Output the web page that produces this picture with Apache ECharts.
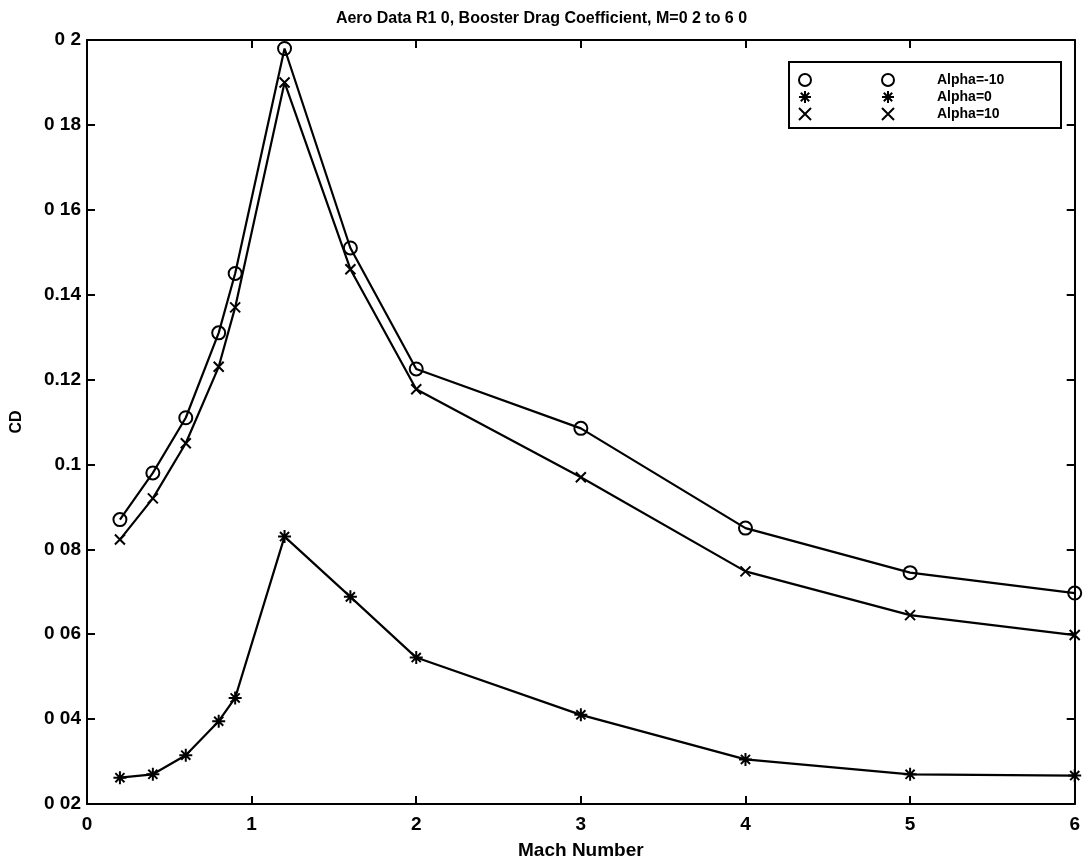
<!DOCTYPE html>
<html>
<head>
<meta charset="utf-8">
<script src="https://cdn.jsdelivr.net/npm/echarts@6/dist/echarts.min.js"></script>
<style>
  html, body { margin: 0; padding: 0; background: #fff; }
  #chart { width: 1083px; height: 865px; }
</style>
</head>
<body>
<div id="chart"></div>
<script>
// Mach numbers
var mach = [0.2, 0.4, 0.6, 0.8, 0.9, 1.2, 1.6, 2, 3, 4, 5, 6];
// drag coefficient per angle of attack
var cdAlphaM10 = [0.087, 0.098, 0.111, 0.131, 0.145, 0.198, 0.151, 0.1225, 0.1085, 0.085, 0.0745, 0.0697];
var cdAlpha0 = [0.0262, 0.027, 0.0315, 0.0395, 0.045, 0.083, 0.0688, 0.0545, 0.041, 0.0305, 0.027, 0.0267];
var cdAlpha10 = [0.0823, 0.092, 0.105, 0.123, 0.137, 0.19, 0.146, 0.1177, 0.097, 0.0748, 0.0645, 0.0598];
var seriesNames = ['Alpha=-10', 'Alpha=0', 'Alpha=10'];
// y tick labels as printed (scanned)
var yTickValues = [0.02, 0.04, 0.06, 0.08, 0.1, 0.12, 0.14, 0.16, 0.18, 0.2];
var yTickLabels = ['0 02', '0 04', '0 06', '0 08', '0.1', '0.12', '0.14', '0 16', '0 18', '0 2'];

var starPath = 'path://M5,0L5,10M0,5L10,5M1.5,1.5L8.5,8.5M8.5,1.5L1.5,8.5';
var crossPath = 'path://M0,0L10,10M10,0L0,10';
var symbols = ['circle', starPath, crossPath];
var symbolSizes = [13, 13, 10];

function pairs(ys) {
  return mach.map(function (m, i) { return [m, ys[i]]; });
}

var chart = echarts.init(document.getElementById('chart'));
var font = 'Liberation Sans, Arial, sans-serif';

var yLabel = function (v) {
  for (var i = 0; i < yTickValues.length; i++) {
    if (Math.abs(v - yTickValues[i]) < 1e-9) return yTickLabels[i];
  }
  return '';
};

var allData = [cdAlphaM10, cdAlpha0, cdAlpha10];
var legendData = seriesNames.map(function (n, i) { return { name: n, icon: symbols[i] }; });

var option = {
  animation: false,
  backgroundColor: '#fff',
  title: {
    text: 'Aero Data R1 0, Booster Drag Coefficient, M=0 2 to 6 0',
    left: 'center',
    top: 6,
    textStyle: { fontFamily: font, fontSize: 16, fontWeight: 'bold', color: '#000' }
  },
  grid: { left: 87, right: 7, top: 40, bottom: 61 },
  legend: [
    {
      orient: 'vertical', left: 793, top: 68, itemGap: 3, itemWidth: 12, itemHeight: 12,
      formatter: function () { return ''; },
      data: legendData,
      textStyle: { fontSize: 14, lineHeight: 14 }
    },
    {
      orient: 'vertical', left: 876, top: 68, itemGap: 3, itemWidth: 12, itemHeight: 12,
      data: legendData,
      textStyle: { fontFamily: font, fontSize: 14, lineHeight: 14, fontWeight: 'bold', color: '#000', padding: [0, 0, 0, 38] }
    }
  ],
  graphic: [
    {
      type: 'rect', left: 788, top: 61, z: 0,
      shape: { width: 272, height: 66 },
      style: { fill: '#fff', stroke: '#000', lineWidth: 2 }
    }
  ],
  xAxis: [
    {
      type: 'value', min: 0, max: 6, interval: 1,
      name: 'Mach Number', nameLocation: 'middle', nameGap: 37,
      nameTextStyle: { fontFamily: font, fontSize: 19, fontWeight: 'bold', color: '#000' },
      axisLine: { onZero: false, lineStyle: { color: '#000', width: 2 } },
      axisTick: { inside: true, length: 8, lineStyle: { color: '#000', width: 2 } },
      axisLabel: { fontFamily: font, fontSize: 19, fontWeight: 'bold', color: '#000', margin: 11 },
      splitLine: { show: false }
    },
    {
      type: 'value', min: 0, max: 6, interval: 1, position: 'top',
      axisLine: { onZero: false, lineStyle: { color: '#000', width: 2 } },
      axisTick: { inside: true, length: 8, lineStyle: { color: '#000', width: 2 } },
      axisLabel: { show: false },
      splitLine: { show: false }
    }
  ],
  yAxis: [
    {
      type: 'value', min: 0.02, max: 0.2, interval: 0.02,
      name: 'CD', nameLocation: 'middle', nameGap: 62, nameRotate: 90,
      nameTextStyle: { fontFamily: font, fontSize: 16, fontWeight: 'bold', color: '#000' },
      axisLine: { show: true, onZero: false, lineStyle: { color: '#000', width: 2 } },
      axisTick: { show: true, inside: true, length: 8, lineStyle: { color: '#000', width: 2 } },
      axisLabel: { fontFamily: font, fontSize: 19, fontWeight: 'bold', color: '#000', margin: 6, formatter: yLabel },
      splitLine: { show: false }
    },
    {
      type: 'value', min: 0.02, max: 0.2, interval: 0.02, position: 'right',
      axisLine: { show: true, onZero: false, lineStyle: { color: '#000', width: 2 } },
      axisTick: { show: true, inside: true, length: 8, lineStyle: { color: '#000', width: 2 } },
      axisLabel: { show: false },
      splitLine: { show: false }
    }
  ],
  series: seriesNames.map(function (n, i) {
    return {
      name: n,
      type: 'line',
      data: pairs(allData[i]),
      symbol: symbols[i],
      symbolSize: symbolSizes[i],
      showAllSymbol: true,
      lineStyle: { color: '#000', width: 2.2 },
      itemStyle: { color: i === 0 ? 'rgba(0,0,0,0)' : '#000', borderColor: '#000', borderWidth: 2 },
      z: 3
    };
  })
};

chart.setOption(option);
</script>
</body>
</html>
